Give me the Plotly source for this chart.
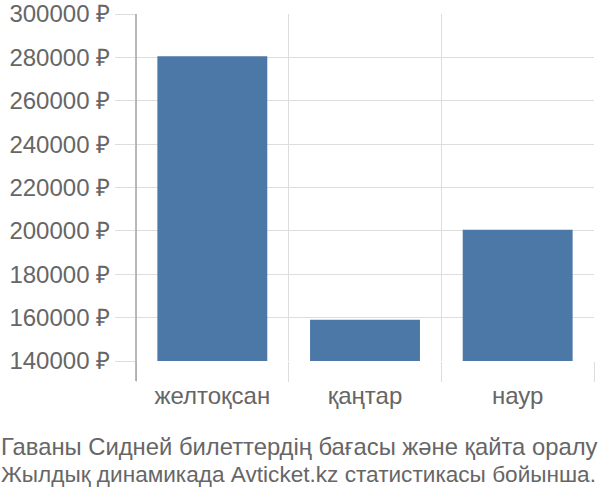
import plotly.graph_objects as go

categories = ["желтоқсан", "қаңтар", "наур"]
prices = [280500, 159000, 200500]
tick_values = [140000, 160000, 180000, 200000, 220000, 240000, 260000, 280000, 300000]
title_lines = ["Гаваны Сидней билеттердің бағасы және қайта оралу",
               "Жылдық динамикада Avticket.kz статистикасы бойынша."]

W, H = 600, 500
L, T = 136, 14
R = W - 594
B = H - 361
plot_h = H - T - B
plot_w = W - L - R

fig = go.Figure(go.Bar(x=categories, y=prices, marker_color="#4c78a8",
                       marker_line_width=0))

font = dict(family="Liberation Sans, Arial, sans-serif", size=24, color="#666666")

fig.update_layout(
    width=W, height=H,
    margin=dict(l=L, r=R, t=T, b=B, autoexpand=False),
    plot_bgcolor="white", paper_bgcolor="white",
    bargap=0.28,
    showlegend=False,
    font=font,
)
fig.update_yaxes(range=[140000, 300000], tickvals=tick_values,
                 ticktext=[f"{v} ₽" for v in tick_values],
                 showgrid=True, gridcolor="#dddddd", gridwidth=1,
                 ticks="outside", ticklen=20, tickcolor="#dddddd",
                 showline=False, zeroline=False, tickfont=font, automargin=False,
                 ticklabeloverflow="allow")
fig.update_xaxes(showgrid=True, gridcolor="#dddddd", tickson="boundaries",
                 ticks="outside", ticklen=20, tickcolor="#dddddd",
                 ticklabelstandoff=18,
                 showline=False, zeroline=False, tickfont=font, automargin=False)

fig.add_shape(type="line", xref="paper", yref="paper",
              x0=0, x1=0, y0=-20 / plot_h, y1=1,
              line=dict(color="#a0a0a0", width=1.5))

for line, yc, sz in zip(title_lines, [446, 474], [23.8, 22.6]):
    fig.add_annotation(text=line, xref="paper", yref="paper",
                       x=-L / plot_w, y=((H - B) - yc) / plot_h,
                       xanchor="left", yanchor="middle", align="left",
                       showarrow=False,
                       font=dict(family=font["family"], size=sz, color="#666666"),
                       borderpad=0)

fig.write_html("out.html", config={"displayModeBar": False},
               post_script="document.body.style.margin='0';")
